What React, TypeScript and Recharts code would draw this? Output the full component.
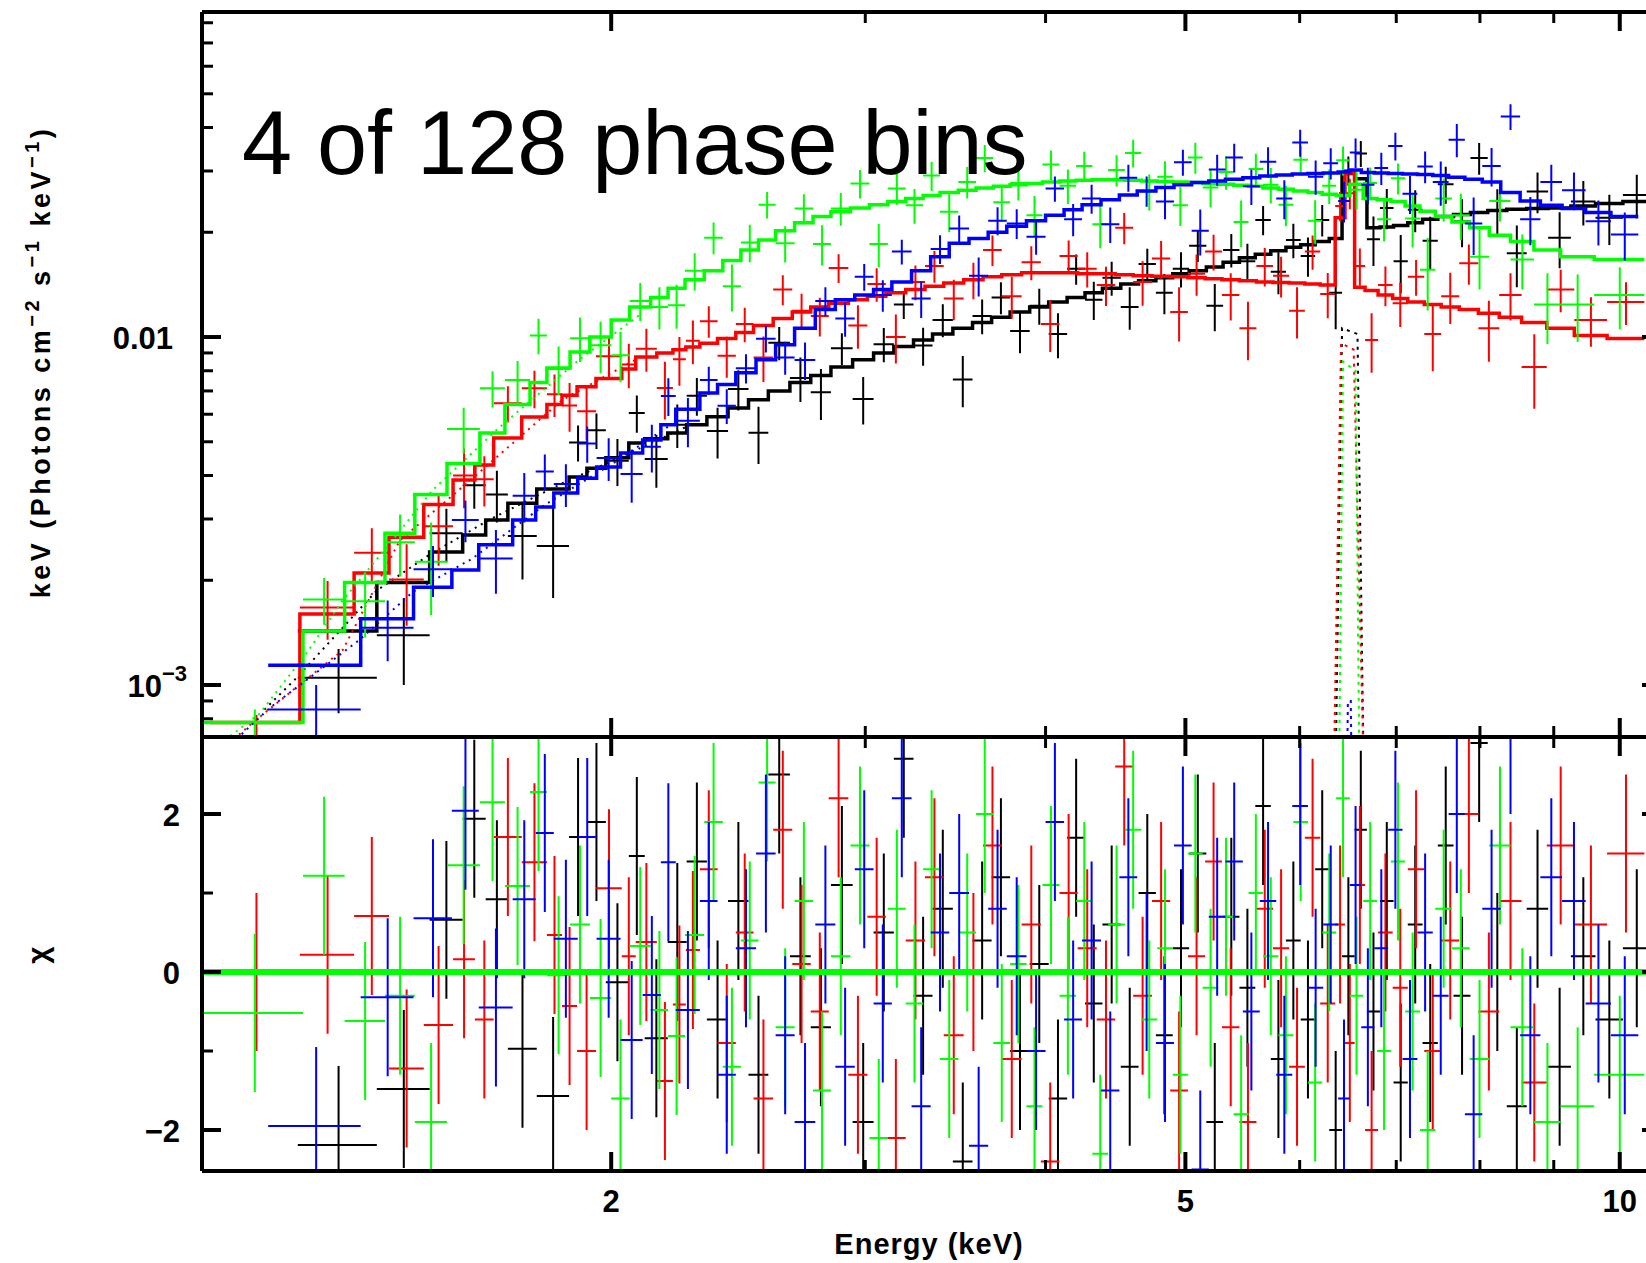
import React from 'react';
import { ComposedChart, Line, XAxis, YAxis, ReferenceLine } from 'recharts';

// ---------------- axes ----------------
const X_DOMAIN = [1.041, 10.68];
const UPPER_Y_DOMAIN = [0.000709, 0.0859];
const LOWER_Y_DOMAIN = [-2.519, 2.975];
const X_TICKS = [2, 3, 4, 5, 6, 7, 8, 9, 10];
const X_MAJOR = [2, 5, 10];
const X_LABELS: Record<string, string> = { '2': '2', '5': '5', '10': '10' };
const UPPER_Y_TICKS = [0.0008, 0.0009, 0.001, 0.002, 0.003, 0.004, 0.005, 0.006, 0.007, 0.008, 0.009, 0.01, 0.02, 0.03, 0.04, 0.05, 0.06, 0.07, 0.08];
const UPPER_Y_MAJOR = [0.001, 0.01];
const LOWER_Y_TICKS = [-2, -1, 0, 1, 2];
const LOWER_Y_MAJOR = [-2, 0, 2];
const LOWER_Y_LABELS: Record<string, string> = { '-2': '\u22122', '0': '0', '2': '2' };

// flux values below are in units of 1e-3 photons cm^-2 s^-1 keV^-1 (times keV)
const FLUX_UNIT = 0.001;
const RESID_ERR = 1;

// ---------------- black ----------------
const blackEdges = [1.213, 1.376, 1.497, 1.578, 1.637, 1.696, 1.776, 1.870, 1.924, 1.983, 2.057, 2.110, 2.189, 2.256,
  2.33, 2.41, 2.49, 2.57, 2.66, 2.75, 2.84, 2.94, 3.04, 3.14, 3.24, 3.34, 3.45, 3.56, 3.67, 3.78, 3.90, 4.02, 4.14, 4.26,
  4.38, 4.51, 4.64, 4.77, 4.90, 5.03, 5.17, 5.31, 5.45, 5.59, 5.73, 5.87, 6.01, 6.15, 6.29, 6.42, 6.55, 6.68, 6.82, 6.97,
  7.13, 7.30, 7.48, 7.67, 7.88, 8.10, 8.35, 8.62, 8.92, 9.25, 9.62, 10.05, 10.5];
const blackModel = [1.43, 1.97, 2.41, 2.70, 2.98, 3.33, 3.66, 3.96, 4.2, 4.5, 4.96, 5.1, 5.3,
  5.6, 5.9, 6.25, 6.6, 7.0, 7.4, 7.75, 8.2, 8.6, 9.0, 9.4, 9.8, 10.2, 10.6, 11.0, 11.4, 11.8, 12.2, 12.6, 13.0,
  13.4, 13.8, 14.2, 14.5, 14.8, 15.2, 15.5, 15.9, 16.4, 16.9, 17.3, 17.7, 18.1, 18.4, 18.8, 19.2, 29.5, 28.5, 20.6, 20.7,
  20.9, 21.3, 21.8, 22.2, 22.5, 22.8, 23.1, 23.3, 23.4, 23.5, 23.8, 24.2, 24.5];
const blackFlux = [1.05, 1.39, 2.73, 3.75, 3.53, 2.68, 2.51, 4.98, 5.40, 4.41, 6.05, 4.46, 5.60, 6.78, 5.37, 7.09, 5.31, 9.63, 7.62, 6.94,
  9.28, 6.64, 9.54, 12.4, 9.45, 11.2, 7.55, 11.5, 13.0, 10.4, 12.3, 10.2, 15.7, 12.8, 14.8, 12.2, 16.2, 13.4, 15.7, 18.3,
  12.3, 17.8, 16.5, 21.7, 15.4, 19.0, 17.1, 21.7, 13.4, 30.1, 33.7, 19.1, 23.5, 16.5, 23.2, 18.9, 27.5, 21.5, 32.7, 23.1,
  17.4, 26.2, 19.3, 24.5, 22.0, 25.6];
const blackErr = [0.22, 0.39, 0.48, 0.54, 0.60, 0.67, 0.73, 0.59, 0.63, 0.68, 0.74, 0.77, 0.80, 0.84, 0.89, 0.94, 0.99, 1.05, 1.11, 1.16,
  0.98, 1.03, 1.08, 1.13, 1.18, 1.22, 1.27, 1.32, 1.37, 1.42, 1.46, 1.51, 1.56, 1.61, 1.66, 1.70, 1.74, 1.78, 1.82, 1.86,
  1.91, 1.97, 2.03, 2.08, 2.12, 2.17, 2.21, 2.26, 2.88, 2.9, 2.9, 3.09, 3.11, 3.14, 3.20, 3.27, 3.33, 3.38, 3.42, 3.47,
  3.50, 3.51, 3.53, 3.57, 3.63, 3.68];
const blackResid = [-2.19, -1.48, 0.66, 1.94, 0.92, -0.97, -1.57, 1.71, 1.90, -0.13, 1.47, -0.84, 0.38, 1.4, -0.6, 0.9, -1.3, 2.5, 0.2, -0.7,
  1.1, -1.9, 0.5, 2.7, -0.3, 0.8, -2.4, 0.4, 1.2, -1.0, 0.1, -1.6, 1.7, -0.4, 0.6, -1.2, 1.0, -0.8, 0.3, 1.5,
  -1.9, 0.7, -0.2, 2.1, -1.1, 0.4, -0.6, 1.3, -2.0, 0.2, 1.8, -0.5, 0.9, -1.4, 0.6, -0.9, 1.6, -0.3, 2.9, 0.0,
  -1.7, 0.8, -1.2, 0.2, -0.6, 0.3];
const blackContE = [1.15, 1.211, 1.376, 1.497, 1.65, 1.85, 2.05, 2.25];
const blackContF = [0.85, 1.05, 1.87, 2.37, 3.0, 3.8, 4.6, 5.5];
const blackLineE = [6.34, 6.42, 6.58, 6.66];
const blackLineF = [0.3, 10.6, 10.2, 0.3];

// ---------------- red ----------------
const redEdges = [1.054, 1.217, 1.327, 1.403, 1.483, 1.554, 1.609, 1.658, 1.734, 1.805, 1.849, 1.894, 1.952, 2.034, 2.080, 2.151, 2.207, 2.253, 2.304,
  2.37, 2.44, 2.51, 2.59, 2.67, 2.75, 2.83, 2.92, 3.01, 3.10, 3.20, 3.30, 3.40, 3.51, 3.62, 3.73, 3.85, 3.97, 4.09, 4.21,
  4.34, 4.47, 4.60, 4.74, 4.88, 5.02, 5.16, 5.30, 5.45, 5.60, 5.75, 5.90, 6.05, 6.20, 6.35, 6.45, 6.55, 6.66, 6.80, 6.96,
  7.13, 7.32, 7.52, 7.74, 7.98, 8.25, 8.55, 8.90, 9.30, 9.80, 10.4];
const redModel = [0.78, 1.6, 2.1, 2.66, 3.3, 3.88, 4.29, 5.13, 5.89, 6.4, 6.8, 7.2, 7.6, 8.1, 8.76, 9.0, 9.2, 9.36,
  9.6, 9.9, 10.3, 10.8, 11.3, 11.8, 12.2, 12.5, 12.8, 13.1, 13.4, 13.7, 14.0, 14.3, 14.6, 14.9, 15.1, 15.3, 15.3, 15.3,
  15.2, 15.2, 15.1, 15.0, 14.95, 14.9, 14.8, 14.7, 14.6, 14.5, 14.4, 14.35, 14.3, 14.2, 14.1, 22.0, 29.6, 13.9, 13.6, 13.2,
  12.9, 12.6, 12.4, 12.2, 12.0, 11.7, 11.4, 11.0, 10.6, 10.1, 9.9];
const redFlux = [0.66, 1.67, 2.40, 2.01, 2.86, 4.00, 3.90, 6.45, 7.12, 6.85, 6.36, 6.12, 8.81, 8.34, 9.26, 7.14, 8.63, 9.75,
  11.1, 8.83, 10.9, 8.73, 13.7, 11.9, 11.5, 15.8, 10.8, 14.2, 10.0, 14.4, 16.0, 12.9, 14.6, 17.8, 13.1, 16.4, 10.9, 17.1,
  15.7, 14.1, 20.6, 14.4, 16.8, 11.8, 15.2, 17.6, 13.2, 10.6, 16.0, 15.0, 11.9, 17.6, 13.3, 23.8, 25.9, 16.0, 9.8, 14.1,
  12.5, 14.9, 10.2, 13.1, 16.3, 10.6, 13.2, 8.2, 13.7, 11.2, 12.6];
const redErr = [0.16, 0.32, 0.42, 0.53, 0.66, 0.78, 0.64, 0.77, 0.88, 0.96, 1.02, 1.08, 1.14, 1.22, 1.31, 1.35, 1.38, 1.40,
  1.15, 1.19, 1.24, 1.30, 1.36, 1.42, 1.46, 1.50, 1.54, 1.57, 1.61, 1.64, 1.68, 1.72, 1.75, 1.79, 1.81, 1.84, 1.84, 1.84, 1.82, 1.82,
  2.11, 2.10, 2.09, 2.09, 2.07, 2.06, 2.04, 2.03, 2.02, 2.01, 2.00, 1.99, 1.97, 2.3, 2.6, 1.95, 1.90, 1.85, 1.81, 1.76,
  2.23, 2.20, 2.16, 2.11, 2.05, 1.98, 1.91, 1.82, 1.78];
const redResid = [0.0, 0.22, 0.71, -1.22, -0.67, 0.16, -0.6, 1.71, 1.39, 0.47, -0.43, -1.0, 1.06, 0.2, 0.38, -1.38, -0.41, 0.28,
  1.3, -0.9, 0.5, -1.6, 1.8, 0.1, -0.5, 2.2, -1.3, 0.7, -2.1, 0.4, 1.2, -0.8, 0.0, 1.6, -1.1, 0.6, -2.4, 1.0,
  0.3, -0.6, 2.6, -0.3, 0.9, -1.5, 0.2, 1.4, -0.7, -1.9, 0.8, 0.3, -1.2, 1.7, -0.4, 0.6, -0.9, 1.1, -2.0, 0.5,
  -0.2, 1.3, -1.0, 0.4, 2.0, -0.5, 0.9, -1.4, 1.6, 0.6, 1.5];
const redContE = [1.05, 1.133, 1.303, 1.427, 1.6, 1.85, 2.1];
const redContF = [0.6, 0.79, 1.26, 2.6, 3.9, 6.6, 8.8];
const redLineE = [6.32, 6.41, 6.54, 6.67];
const redLineF = [0.3, 9.6, 9.2, 0.3];

// ---------------- green ----------------
const greenEdges = [1.042, 1.223, 1.307, 1.394, 1.462, 1.539, 1.622, 1.688, 1.757, 1.805, 1.873, 1.933, 2.00, 2.06, 2.13, 2.19, 2.25, 2.32, 2.39, 2.46,
  2.53, 2.60, 2.68, 2.76, 2.84, 2.93, 3.02, 3.11, 3.20, 3.29, 3.38, 3.48, 3.58, 3.68, 3.78, 3.88, 3.98, 4.09, 4.20, 4.31,
  4.42, 4.54, 4.66, 4.78, 4.90, 5.02, 5.14, 5.27, 5.40, 5.53, 5.66, 5.80, 5.94, 6.08, 6.22, 6.36, 6.50, 6.64, 6.79, 6.94,
  7.10, 7.27, 7.45, 7.65, 7.87, 8.12, 8.40, 8.72, 9.10, 9.60, 10.4];
const greenModel = [0.78, 1.43, 1.97, 2.73, 3.53, 4.33, 5.3, 6.4, 7.4, 8.15, 9.05, 10.0, 11.2, 12.2, 13.0, 13.8, 14.6, 15.5, 16.6, 17.8,
  19.0, 20.2, 21.3, 22.2, 22.9, 23.5, 24.0, 24.5, 25.0, 25.5, 26.0, 26.4, 26.8, 27.1, 27.4, 27.6, 27.9, 28.1, 28.2, 28.3,
  28.3, 28.2, 28.1, 28.0, 27.9, 27.8, 27.6, 27.5, 27.3, 27.1, 26.8, 26.6, 26.3, 26.0, 25.7, 25.5, 27.5, 25.0, 24.8, 24.5,
  23.8, 23.0, 22.2, 21.4, 20.6, 19.6, 18.8, 17.8, 17.0, 16.7];
const greenFlux = [0.70, 1.76, 1.74, 2.57, 2.26, 5.44, 7.12, 7.52, 10.1, 8.10, 9.92, 9.47, 8.87, 12.7, 12.2, 12.35, 15.5, 19.3, 14.0, 18.7,
  24.0, 18.6, 23.4, 18.5, 23.4, 27.6, 18.5, 26.7, 23.9, 29.1, 22.9, 27.9, 32.7, 24.4, 27.7, 22.4, 31.3, 27.2, 31.0, 21.1,
  30.2, 33.8, 26.2, 28.9, 23.9, 32.8, 26.9, 29.8, 21.4, 30.4, 27.4, 24.0, 32.3, 21.6, 27.2, 32.2, 26.5, 27.7, 21.8, 28.6,
  21.9, 15.6, 25.0, 22.4, 17.0, 24.6, 16.7, 12.4, 12.4, 13.2];
const greenErr = [0.15, 0.27, 0.37, 0.52, 0.67, 0.82, 0.85, 1.02, 1.18, 1.30, 1.45, 1.60, 1.46, 1.59, 1.69, 1.79, 1.90, 2.02, 2.16, 2.31,
  2.09, 2.22, 2.34, 2.44, 2.52, 2.59, 2.64, 2.70, 2.75, 2.81, 2.86, 2.90, 2.95, 2.98, 3.01, 3.04, 3.07, 3.09, 3.10, 3.11,
  3.11, 3.10, 3.09, 3.08, 3.07, 3.34, 3.31, 3.30, 3.28, 3.25, 3.22, 3.19, 3.16, 3.12, 3.08, 3.06, 3.30, 3.00, 2.98, 2.94,
  3.81, 3.68, 3.55, 3.42, 3.30, 3.14, 3.01, 2.85, 2.72, 2.67];
const greenResid = [-0.52, 1.22, -0.62, -0.30, -1.90, 1.35, 2.15, 1.09, 2.28, -0.04, 0.6, -0.33, -1.60, 0.33, -0.48, -0.81, 0.47, 1.9, -1.2, 0.4,
  2.4, -0.7, 0.9, -1.5, 0.2, 1.6, -2.1, 0.8, -0.4, 1.3, -1.1, 0.5, 2.0, -0.9, 0.1, -1.7, 1.1, -0.3, 0.9, -2.3,
  0.6, 1.8, -0.6, 0.3, -1.3, 1.5, -0.2, 0.7, -1.8, 1.0, 0.2, -0.8, 1.9, -1.4, 0.5, 2.2, -0.3, 0.9, -1.0, 1.4,
  -0.5, -2.0, 0.8, 0.3, -1.1, 1.6, -0.7, -1.9, -1.7, -1.3];
const greenContE = [1.042, 1.142, 1.231, 1.303, 1.398, 1.504, 1.674, 1.9, 2.1];
const greenContF = [0.62, 0.83, 1.24, 1.75, 2.49, 3.63, 5.51, 8.6, 11.7];
const greenLineE = [6.38, 6.43, 6.56, 6.61];
const greenLineF = [0.3, 8.5, 8.0, 0.3];

// ---------------- blue ----------------
const blueEdges = [1.157, 1.341, 1.459, 1.551, 1.619, 1.709, 1.773, 1.825, 1.896, 1.954, 2.030, 2.103, 2.165, 2.217, 2.304,
  2.37, 2.44, 2.52, 2.60, 2.68, 2.77, 2.86, 2.95, 3.04, 3.13, 3.23, 3.33, 3.43, 3.54, 3.65, 3.76, 3.88, 4.00, 4.12, 4.24,
  4.37, 4.50, 4.63, 4.77, 4.91, 5.05, 5.19, 5.33, 5.48, 5.63, 5.78, 5.93, 6.08, 6.23, 6.38, 6.50, 6.62, 6.76, 6.91, 7.07,
  7.24, 7.42, 7.61, 7.81, 8.03, 8.27, 8.53, 8.81, 9.12, 9.47, 9.86, 10.3];
const blueModel = [1.14, 1.55, 1.91, 2.14, 2.53, 2.98, 3.25, 3.56, 3.93, 4.23, 4.64, 5.06, 5.6, 6.2,
  6.9, 7.3, 7.9, 8.6, 9.5, 10.6, 12.0, 12.8, 13.2, 13.7, 14.4, 15.5, 17.0, 18.6, 19.2, 20.0, 20.8, 21.6, 22.4, 23.2,
  24.0, 24.8, 25.6, 26.3, 26.9, 27.4, 27.8, 28.1, 28.4, 28.7, 29.0, 29.2, 29.4, 29.5, 29.6, 29.8, 30.2, 29.7, 29.6, 29.5,
  29.4, 29.3, 29.1, 28.8, 28.4, 27.9, 26.0, 24.6, 23.9, 23.4, 22.8, 22.2];
const blueFlux = [0.85, 1.46, 2.15, 2.98, 2.31, 3.50, 4.11, 3.78, 4.94, 4.49, 4.04, 4.84, 6.77, 5.75,
  7.52, 6.35, 8.14, 9.89, 8.74, 8.59, 12.7, 11.3, 14.9, 13.2, 17.6, 12.9, 17.9, 20.5, 15.0, 21.6, 21.2, 19.4, 26.7, 21.8,
  25.0, 21.1, 28.7, 26.3, 24.5, 31.8, 20.2, 30.3, 32.8, 27.1, 31.9, 25.0, 36.2, 28.9, 31.6, 24.6, 33.9, 27.4, 30.6, 35.4,
  25.8, 30.9, 27.9, 36.9, 21.2, 31.0, 43.0, 21.8, 27.9, 26.4, 21.5, 19.7];
const blueErr = [0.15, 0.29, 0.36, 0.41, 0.48, 0.57, 0.49, 0.53, 0.59, 0.63, 0.70, 0.76, 0.84, 0.93,
  0.69, 0.73, 0.79, 0.86, 0.95, 1.06, 1.20, 1.28, 1.32, 1.37, 1.44, 1.55, 1.70, 1.86, 1.92, 2.00, 2.08, 2.16, 2.24, 2.32,
  2.40, 2.48, 2.56, 2.63, 2.69, 2.74, 3.06, 3.09, 3.12, 3.16, 3.19, 3.21, 3.23, 3.25, 3.26, 3.28, 3.32, 3.27, 3.26, 3.25,
  3.23, 3.22, 4.07, 4.03, 3.98, 3.91, 3.64, 3.44, 3.35, 3.28, 3.19, 3.11];
const blueResid = [-1.95, -0.32, 0.68, 2.04, -0.45, 0.92, 1.76, 0.42, 1.71, 0.42, -0.86, -0.29, 1.39, -0.48,
  0.9, -1.3, 0.3, 1.5, -0.8, -1.9, 0.6, -1.2, 1.3, -0.4, 2.2, -1.7, 0.5, 1.0, -2.2, 0.8, 0.2, -1.0, 1.9, -0.6,
  0.4, -1.5, 1.2, 0.0, -0.9, 1.6, -2.5, 0.7, 1.4, -0.5, 0.9, -1.3, 2.1, -0.2, 0.6, -1.6, 1.1, -0.7, 0.3, 1.8,
  -1.1, 0.5, -0.3, 2.0, -1.8, 0.8, 3.0, -0.8, 1.2, 0.9, -0.4, -0.8];
const blueContE = [1.10, 1.160, 1.339, 1.457, 1.6, 1.8, 2.0, 2.2];
const blueContF = [0.7, 0.86, 1.35, 1.85, 2.3, 3.3, 4.3, 5.6];
const blueLineE = [6.46, 6.48, 6.51, 6.53];
const blueLineF = [0.3, 0.9, 0.9, 0.3];

// ---------------- builders (data -> series tables) ----------------
type P = { x: number; y: number | null };
// horizontal bar of each cross: spans its energy bin, broken by nulls
function hBars(edges: number[], vals: number[], unit: number): P[] {
  const out: P[] = [];
  vals.forEach((v, i) => {
    out.push({ x: edges[i], y: v * unit }, { x: edges[i + 1], y: v * unit }, { x: edges[i + 1], y: null });
  });
  return out;
}
// vertical bar of each cross: value +/- error at the bin centre
function vBars(edges: number[], vals: number[], errs: number[] | number, unit: number): P[] {
  const out: P[] = [];
  vals.forEach((v, i) => {
    const c = (edges[i] + edges[i + 1]) / 2;
    const e = Array.isArray(errs) ? errs[i] : errs;
    out.push({ x: c, y: (v - e) * unit }, { x: c, y: (v + e) * unit }, { x: c, y: null });
  });
  return out;
}
function steps(edges: number[], vals: number[], unit: number): P[] {
  const pts: P[] = vals.map((v, i) => ({ x: edges[i], y: v * unit }));
  pts.push({ x: edges[edges.length - 1], y: vals[vals.length - 1] * unit });
  return pts;
}
function curve(es: number[], fs: number[], unit: number): P[] {
  return es.map((e, i) => ({ x: e, y: fs[i] * unit }));
}

const SERIES = [
  { name: 'black', color: '#000000', edges: blackEdges, model: blackModel, flux: blackFlux, err: blackErr, resid: blackResid, cE: blackContE, cF: blackContF, lE: blackLineE, lF: blackLineF },
  { name: 'red', color: '#ff0000', edges: redEdges, model: redModel, flux: redFlux, err: redErr, resid: redResid, cE: redContE, cF: redContF, lE: redLineE, lF: redLineF },
  { name: 'green', color: '#00ff00', edges: greenEdges, model: greenModel, flux: greenFlux, err: greenErr, resid: greenResid, cE: greenContE, cF: greenContF, lE: greenLineE, lF: greenLineF },
  { name: 'blue', color: '#0000ff', edges: blueEdges, model: blueModel, flux: blueFlux, err: blueErr, resid: blueResid, cE: blueContE, cF: blueContF, lE: blueLineE, lF: blueLineF },
].map((s) => ({
  ...s,
  upH: hBars(s.edges, s.flux, FLUX_UNIT),
  upV: vBars(s.edges, s.flux, s.err, FLUX_UNIT),
  steps: steps(s.edges, s.model, FLUX_UNIT),
  loH: hBars(s.edges, s.resid, 1),
  loV: vBars(s.edges, s.resid, RESID_ERR, 1),
  cont: curve(s.cE, s.cF, FLUX_UNIT),
  line: curve(s.lE, s.lF, FLUX_UNIT),
}));

// ---------------- styling helpers ----------------
const FONT = '"Liberation Sans", Arial, Helvetica, sans-serif';
const AXIS_LINE = { stroke: '#000', strokeWidth: 4 };
const TICK_TEXT = { fontFamily: FONT, fontWeight: 700, fontSize: 31, fill: '#000' } as const;

const isIn = (v: number, list: number[]) => list.some((m) => Math.abs(m - v) <= 1e-9 * Math.max(1, Math.abs(m)));

const makeXTick = (dir: number, withLabels: boolean) => (props: any) => {
  const { x, y, payload } = props;
  const v = payload.value;
  const major = isIn(v, X_MAJOR);
  const len = major ? 19 : 11;
  return (
    <g>
      <line x1={x} x2={x} y1={y} y2={y + dir * len} stroke="#000" strokeWidth={major ? 4 : 3} />
      {withLabels && major ? (
        <text x={x} y={y + 41} textAnchor="middle" {...TICK_TEXT}>{X_LABELS[String(v)]}</text>
      ) : null}
    </g>
  );
};

const makeYTick = (dir: number, majors: number[], labeler?: (v: number, x: number, y: number) => any) => (props: any) => {
  const { x, y, payload } = props;
  const v = payload.value;
  const major = isIn(v, majors);
  const len = major ? 19 : 11;
  return (
    <g>
      <line x1={x} x2={x + dir * len} y1={y} y2={y} stroke="#000" strokeWidth={major ? 4 : 3} />
      {labeler ? labeler(v, x, y) : null}
    </g>
  );
};

const upperLabeler = (v: number, x: number, y: number) => {
  if (isIn(v, [0.01])) return <text x={x - 29} y={y + 12} textAnchor="end" {...TICK_TEXT}>0.01</text>;
  if (isIn(v, [0.001]))
    return (
      <text x={x - 15} y={y + 12} textAnchor="end" {...TICK_TEXT}>
        10<tspan dy={-16} fontSize={22}>{'\u22123'}</tspan>
      </text>
    );
  return null;
};
const lowerLabeler = (v: number, x: number, y: number) => {
  if (!isIn(v, LOWER_Y_MAJOR)) return null;
  return <text x={x - 22} y={y + 12} textAnchor="end" {...TICK_TEXT}>{LOWER_Y_LABELS[String(v)]}</text>;
};

const UpperLabels = () => (
  <g>
    <text x={242} y={174} fontFamily={FONT} fontSize={90} fill="#000">4 of 128 phase bins</text>
    <text transform="rotate(-90 50 362)" x={50} y={362} textAnchor="middle" fontFamily={FONT} fontWeight={700} fontSize={27} letterSpacing={3.5} fill="#000">
      keV (Photons cm<tspan dy={-11} fontSize={20}>{'\u22122'}</tspan>
      <tspan dy={11}> s</tspan><tspan dy={-11} fontSize={20}>{'\u22121'}</tspan>
      <tspan dy={11}> keV</tspan><tspan dy={-11} fontSize={20}>{'\u22121'}</tspan>
      <tspan dy={11}>)</tspan>
    </text>
  </g>
);
const ChiLabel = () => (
  <text transform="rotate(-90 48 255)" x={48} y={255} textAnchor="middle" fontFamily={FONT} fontWeight={700} fontSize={30} fill="#000">χ</text>
);
const EnergyLabel = () => (
  <text x={929} y={554} textAnchor="middle" fontFamily={FONT} fontWeight={700} fontSize={29} letterSpacing={1} fill="#000">Energy (keV)</text>
);

const seg = (key: string, data: P[], color: string, width: number, extra: any = {}) => (
  <Line key={key} xAxisId="b" yAxisId="l" data={data} dataKey="y" type="linear" stroke={color} strokeWidth={width}
    dot={false} activeDot={false} connectNulls={false} isAnimationActive={false} {...extra} />
);

export default function App() {
  return (
    <div style={{ position: 'absolute', left: 0, top: 0, width: 1646, height: 1263, overflow: 'hidden', background: '#fff' }}>
      {/* lower panel: residuals */}
      <div style={{ position: 'absolute', left: 0, top: 700 }}>
        <ComposedChart width={1671} height={563} margin={{ top: 36, right: 0, bottom: 0, left: 0 }}>
          <XAxis xAxisId="b" dataKey="x" type="number" scale="log" domain={X_DOMAIN} allowDataOverflow ticks={X_TICKS} interval={0}
            tickSize={0} tickMargin={0} tickLine={false} axisLine={AXIS_LINE} tick={makeXTick(-1, true)} height={92} orientation="bottom"
            label={<EnergyLabel />} />
          <XAxis xAxisId="t" dataKey="x" type="number" scale="log" domain={X_DOMAIN} allowDataOverflow ticks={X_TICKS} interval={0}
            tickSize={0} tickMargin={0} tickLine={false} axisLine={AXIS_LINE} tick={makeXTick(1, false)} height={1} orientation="top" />
          <YAxis yAxisId="l" dataKey="y" type="number" domain={LOWER_Y_DOMAIN} allowDataOverflow ticks={LOWER_Y_TICKS} interval={0}
            tickSize={0} tickMargin={0} tickLine={false} axisLine={AXIS_LINE} tick={makeYTick(1, LOWER_Y_MAJOR, lowerLabeler)} width={202}
            label={<ChiLabel />} />
          <YAxis yAxisId="r" orientation="right" type="number" domain={LOWER_Y_DOMAIN} allowDataOverflow ticks={LOWER_Y_TICKS} interval={0}
            tickSize={0} tickMargin={0} tickLine={false} axisLine={AXIS_LINE} tick={makeYTick(-1, LOWER_Y_MAJOR)} width={10} />
          {SERIES.flatMap((s) => [
            seg('rh-' + s.name, s.loH, s.color, 2),
            seg('rv-' + s.name, s.loV, s.color, 2),
          ])}
          <ReferenceLine xAxisId="b" yAxisId="l" y={0} stroke="#00ff00" strokeWidth={6} />
        </ComposedChart>
      </div>
      {/* upper panel: unfolded spectra */}
      <div style={{ position: 'absolute', left: 0, top: 0 }}>
        <ComposedChart width={1671} height={740} margin={{ top: 11, right: 0, bottom: 2, left: 0 }}>
          <XAxis xAxisId="b" dataKey="x" type="number" scale="log" domain={X_DOMAIN} allowDataOverflow ticks={X_TICKS} interval={0}
            tickSize={0} tickMargin={0} tickLine={false} axisLine={AXIS_LINE} tick={makeXTick(-1, false)} height={1} orientation="bottom" />
          <XAxis xAxisId="t" dataKey="x" type="number" scale="log" domain={X_DOMAIN} allowDataOverflow ticks={X_TICKS} interval={0}
            tickSize={0} tickMargin={0} tickLine={false} axisLine={AXIS_LINE} tick={makeXTick(1, false)} height={1} orientation="top" />
          <YAxis yAxisId="l" dataKey="y" type="number" scale="log" domain={UPPER_Y_DOMAIN} allowDataOverflow ticks={UPPER_Y_TICKS} interval={0}
            tickSize={0} tickMargin={0} tickLine={false} axisLine={AXIS_LINE} tick={makeYTick(1, UPPER_Y_MAJOR, upperLabeler)} width={202}
            label={<UpperLabels />} />
          <YAxis yAxisId="r" orientation="right" type="number" scale="log" domain={UPPER_Y_DOMAIN} allowDataOverflow ticks={UPPER_Y_TICKS} interval={0}
            tickSize={0} tickMargin={0} tickLine={false} axisLine={AXIS_LINE} tick={makeYTick(-1, UPPER_Y_MAJOR)} width={10} />
          {SERIES.flatMap((s) => [
            seg('c-' + s.name, s.cont, s.color, 2, { strokeDasharray: '2 5' }),
            seg('g-' + s.name, s.line, s.color, 2, { strokeDasharray: '3 5' }),
            seg('h-' + s.name, s.upH, s.color, 2),
            seg('v-' + s.name, s.upV, s.color, 2),
            seg('m-' + s.name, s.steps, s.color, 3.5, { type: 'stepAfter' }),
          ])}
        </ComposedChart>
      </div>
    </div>
  );
}
